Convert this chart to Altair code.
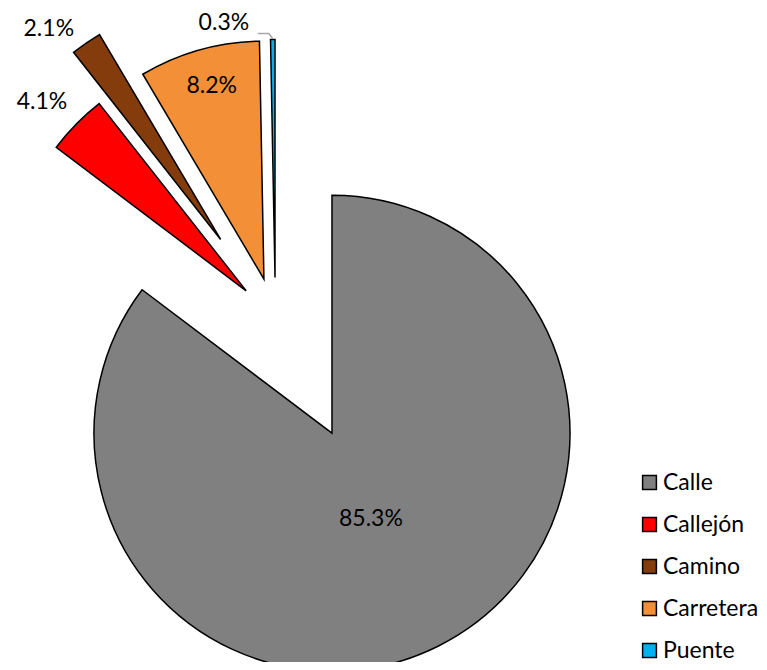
import math
import altair as alt
import pandas as pd

# ---- data ----
categories = ["Calle", "Callejón", "Camino", "Carretera", "Puente"]
shares = [85.3, 4.1, 2.1, 8.2, 0.3]
labels = ["85.3%", "4.1%", "2.1%", "8.2%", "0.3%"]

# ---- style ----
colors = ["#808080", "#FF0000", "#843C0C", "#F38F37", "#00B0F0"]
explode = [127, 41, 97, 42, 42]          # px offset of each slice along its mid angle
label_radius = [94, 278, 272, 200, 260]  # px from slice apex
label_nudge = [2.0, -1.7, -4.8, 0.7, -10.8]  # degrees
CX, CY, R = 267.4, 311.5, 238
FONT = "Lato"

total = sum(shares)
rows = []
cum = 0.0
for i, (c, v) in enumerate(zip(categories, shares)):
    t0 = cum / total * 2 * math.pi
    cum += v
    t1 = cum / total * 2 * math.pi
    mid = (t0 + t1) / 2
    ax = CX + explode[i] * math.sin(mid)
    ay = CY - explode[i] * math.cos(mid)
    la = mid + math.radians(label_nudge[i])
    rows.append(dict(cat=c, t0=t0, t1=t1, ax=ax, ay=ay, label=labels[i],
                     lx=ax + label_radius[i] * math.sin(la),
                     ly=ay - label_radius[i] * math.cos(la),
                     ox=ax + R * math.sin(mid), oy=ay - R * math.cos(mid)))
df = pd.DataFrame(rows)

# leader line for the smallest slice label (0.3%)
p = rows[4]
leader = pd.DataFrame({
    "x": [p["lx"] + 34, p["ox"] - 4, p["ox"]],
    "y": [p["ly"] + 11, p["ly"] + 11, p["oy"] - 1],
    "o": [0, 1, 2],
})

color = alt.Color(
    "cat:N",
    scale=alt.Scale(domain=categories, range=colors),
    legend=alt.Legend(
        title=None, orient="none", legendX=630, legendY=463,
        symbolType="square", symbolSize=190, symbolStrokeColor="black",
        symbolStrokeWidth=1.5, symbolOpacity=1,
        labelFont=FONT, labelFontSize=23, labelColor="black",
        rowPadding=18, labelOffset=2, labelLimit=200,
    ),
)

pie = alt.Chart(df).mark_arc(stroke="black", strokeWidth=1.5, outerRadius=R).encode(
    x=alt.X("ax:Q", scale=None),
    y=alt.Y("ay:Q", scale=None),
    theta=alt.Theta("t0:Q", scale=None),
    theta2="t1:Q",
    color=color,
)

text = alt.Chart(df).mark_text(font=FONT, fontSize=23, color="black").encode(
    x=alt.X("lx:Q", scale=None),
    y=alt.Y("ly:Q", scale=None),
    text="label:N",
)

lead = alt.Chart(leader).mark_line(color="#A6A6A6", strokeWidth=1.5).encode(
    x=alt.X("x:Q", scale=None),
    y=alt.Y("y:Q", scale=None),
    order="o:Q",
)

chart = alt.layer(pie, lead, text).properties(
    width=751, height=654, padding=0,
    autosize=alt.AutoSizeParams(type="none"),
).configure_view(stroke=None)

chart.save("out.html", embed_options={"renderer": "svg", "actions": False})
